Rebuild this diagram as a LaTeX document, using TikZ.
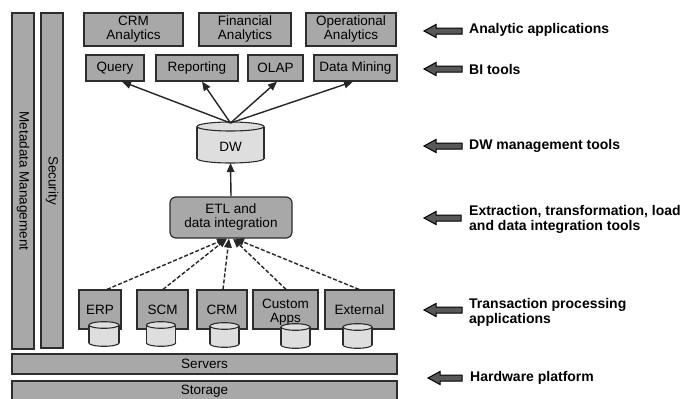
\documentclass[tikz,border=0pt]{standalone}
\usepackage{fontspec}
\setmainfont{Liberation Sans}
\usetikzlibrary{arrows.meta}
\definecolor{boxfill}{RGB}{168,168,168}
\definecolor{cylfill}{RGB}{222,222,222}
\definecolor{edge}{RGB}{45,45,45}
\definecolor{barrow}{RGB}{88,88,88}
\newcommand\dbcyl[5]{%
  \draw[cylbody] (#1,#3) ellipse ({#4} and {#5});
  \fill[cylfill] (#1-#4,#2) rectangle (#1+#4,#3);
  \draw[edge, line width=1.1pt] (#1-#4,#2) -- (#1-#4,#3) (#1+#4,#2) -- (#1+#4,#3);
  \draw[cylbody] (#1,#2) ellipse ({#4} and {#5});
}
\newcommand\leftblk[3]{%
  \draw[blk] (#1,#3) -- (#1+12,#3-6.5) -- (#1+12,#3-3) -- (#2,#3-3) -- (#2,#3+3) -- (#1+12,#3+3) -- (#1+12,#3+6.5) -- cycle;
}
\begin{document}
\begin{tikzpicture}[x=1pt,y=-1pt,
  box/.style={draw=edge, fill=boxfill, line width=1.2pt, inner sep=0pt, align=center, font=\fontsize{13.5}{14}\selectfont},
  cylbody/.style={draw=edge, fill=cylfill, line width=1.1pt},
  txt/.style={inner sep=0pt, align=center, font=\fontsize{13.5}{14}\selectfont},
  flow/.style={draw=black!85, line width=1.4pt, -{Triangle[length=9pt,width=7.5pt]}},
  feed/.style={flow, dash pattern=on 4pt off 2pt},
  lbl/.style={anchor=west, inner sep=0pt, align=left, font=\bfseries\fontsize{14}{15}\selectfont},
  blk/.style={draw=black, fill=barrow, line width=1pt, line join=miter}
]
\useasboundingbox (0,0) rectangle (681,399);
\clip (0,0) rectangle (681,399);
\fill[white] (0,0) rectangle (681,399);

% vertical bars
\node[box, rotate=-90, minimum width=336, minimum height=22] (meta) at (23,181) {Metadata Management};
\node[box, rotate=-90, minimum width=335, minimum height=22] (sec) at (52,180.5) {Security};

% analytic applications
\node[box, minimum width=99, minimum height=33] (crma) at (133.5,29.5) {CRM\\Analytics};
\node[box, minimum width=92, minimum height=33] (fina) at (245,29.5) {Financial\\Analytics};
\node[box, minimum width=90, minimum height=33] (opa) at (351,29.5) {Operational\\Analytics};

% BI tools
\node[box, minimum width=58, minimum height=26] (query) at (115,68) {Query};
\node[box, minimum width=82, minimum height=26] (rep) at (197,68) {Reporting};
\node[box, minimum width=55, minimum height=26] (olap) at (275.5,68) {OLAP};
\node[box, minimum width=83, minimum height=26] (dm) at (355.5,68) {Data Mining};

% DW
\dbcyl{230.5}{126.5}{158.5}{33.5}{4.5}
\node[txt] (dw) at (230.5,147) {DW};
\coordinate (dwtop) at (230.5,123);
\coordinate (dwbot) at (230.5,163);

% ETL
\node[box, rounded corners=6pt, minimum width=122, minimum height=41] (etl) at (231,217.5) {ETL and\\data integration};

% source systems
\node[box, minimum width=42, minimum height=39] (erp) at (100,309.5) {\raisebox{-1.5pt}{ERP}};
\node[box, minimum width=51, minimum height=39] (scm) at (162.5,309.5) {\raisebox{-1.5pt}{SCM}};
\node[box, minimum width=50, minimum height=39] (crm) at (222,309.5) {\raisebox{-1.5pt}{CRM}};
\node[box, minimum width=65, minimum height=39] (cust) at (285.5,309.5) {};
\node[txt] (custt) at (285.5,312) {Custom\\Apps};
\node[box, minimum width=69, minimum height=39] (ext) at (359.5,309.5) {\raisebox{-1.5pt}{External}};
\dbcyl{104}{325}{343}{15}{3.3}
\dbcyl{161}{325}{343}{14.5}{3.3}
\dbcyl{224.5}{326}{344}{14.5}{3.3}
\dbcyl{295.5}{327}{345}{14.5}{3.3}
\dbcyl{357.5}{327}{345}{14.5}{3.3}

% hardware
\node[box, minimum width=385, minimum height=20] (srv) at (204.5,364) {Servers};
\node[box, minimum width=385, minimum height=21] (sto) at (204.5,391.5) {\raisebox{-1pt}{Storage}};

% arrows DW -> BI tools
\draw[flow] (dwtop) -- ([xshift=7pt]query.south);
\draw[flow] (dwtop) -- ([xshift=5pt]rep.south);
\draw[flow] (dwtop) -- ([xshift=1.5pt]olap.south);
\draw[flow] (dwtop) -- ([xshift=-2.5pt]dm.south);
\draw[flow] (etl.north) -- (dwbot);

% dashed feeds
\draw[feed] ([xshift=7pt]erp.north) -- ([xshift=-5pt]etl.south);
\draw[feed] ([xshift=0.5pt]scm.north) -- ([xshift=-4pt]etl.south);
\draw[feed] ([xshift=1pt]crm.north) -- ([xshift=-2pt]etl.south);
\draw[feed] ([xshift=0.5pt]cust.north) -- ([xshift=2pt]etl.south);
\draw[feed] ([xshift=-0.5pt]ext.north) -- ([xshift=4pt]etl.south);

% right-hand labels
\leftblk{424}{462}{31}
\node[lbl] (l1) at (469,30) {Analytic applications};
\leftblk{424}{462}{69}
\node[lbl] (l2) at (469,69) {BI tools};
\leftblk{424}{462}{146}
\node[lbl] (l3) at (469,146) {DW management tools};
\leftblk{424}{461}{218}
\node[lbl] (l4) at (469,219.5) {Extraction, transformation, load\\and data integration tools};
\leftblk{424}{462}{310}
\node[lbl] (l5) at (469,312.5) {Transaction processing\\applications};
\leftblk{428}{462}{378}
\node[lbl] (l6) at (470,378) {Hardware platform};
\end{tikzpicture}
\end{document}
